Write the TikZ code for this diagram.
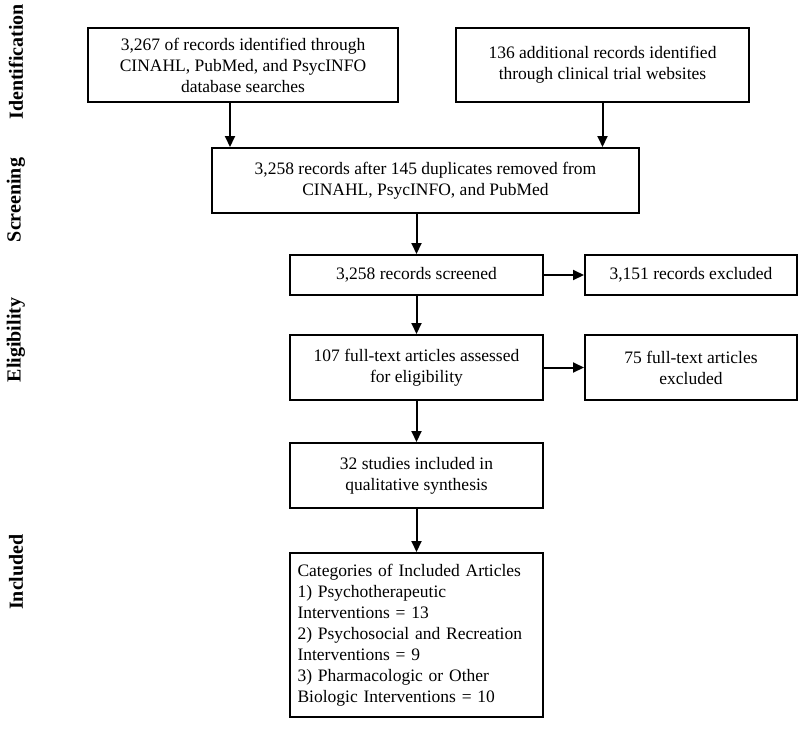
\documentclass[tikz,border=0pt]{standalone}
\usepackage{fontspec}
\setmainfont{Liberation Serif}
\usetikzlibrary{arrows.meta}
\begin{document}
\begin{tikzpicture}[x=1pt,y=-1pt,
  box/.style={draw,line width=2pt,font=\fontsize{17.5}{21}\selectfont,align=center,inner sep=0pt},
  side/.style={rotate=90,font=\bfseries\fontsize{20}{22}\selectfont},
  arr/.style={line width=2pt,-{Triangle[length=11pt,width=10pt]}}]
\useasboundingbox (0,0) rectangle (800,736);
\node[box,minimum width=310,minimum height=74] (a) at (243,65) {3,267 of records identified through\\CINAHL, PubMed, and PsycINFO\\database searches};
\node[box,minimum width=293,minimum height=74] (b) at (602.5,65) {136 additional records identified\\through clinical trial websites};
\node[box,minimum width=427,minimum height=65] (c) at (425.5,180.5) {3,258 records after 145 duplicates removed from\\CINAHL, PsycINFO, and PubMed};
\node[box,minimum width=253,minimum height=40] (d) at (416.5,275) {3,258 records screened};
\node[box,minimum width=212,minimum height=40] (e) at (691,275) {3,151 records excluded};
\node[box,minimum width=253,minimum height=65] (f) at (416.5,367.5) {107 full-text articles assessed\\for eligibility};
\node[box,minimum width=212,minimum height=65] (g) at (691,367.5) {75 full-text articles\\excluded};
\node[box,minimum width=253,minimum height=65] (h) at (416.5,475.5) {32 studies included in\\qualitative synthesis};
\node[box,minimum width=253,minimum height=164,align=left,text width=238] (i) at (416.5,635) {Categories of Included Articles\\1) Psychotherapeutic\\Interventions = 13\\2) Psychosocial and Recreation\\Interventions = 9\\3) Pharmacologic or Other\\Biologic Interventions = 10};
\node[side] (s1) at (16,62) {Identification};
\node[side] (s2) at (16,200) {Screening};
\node[side] (s3) at (16,340) {Eligibility};
\node[side] (s4) at (16,572) {Included};
\draw[arr] (a.south -| 230,0) -- (c.north -| 230,0);
\draw[arr] (b.south) -- (c.north -| b.south);
\draw[arr] (c.south -| d.north) -- (d.north);
\draw[arr] (d.east) -- (e.west);
\draw[arr] (d.south) -- (f.north);
\draw[arr] (f.east) -- (g.west);
\draw[arr] (f.south) -- (h.north);
\draw[arr] (h.south) -- (i.north);
\end{tikzpicture}
\end{document}
